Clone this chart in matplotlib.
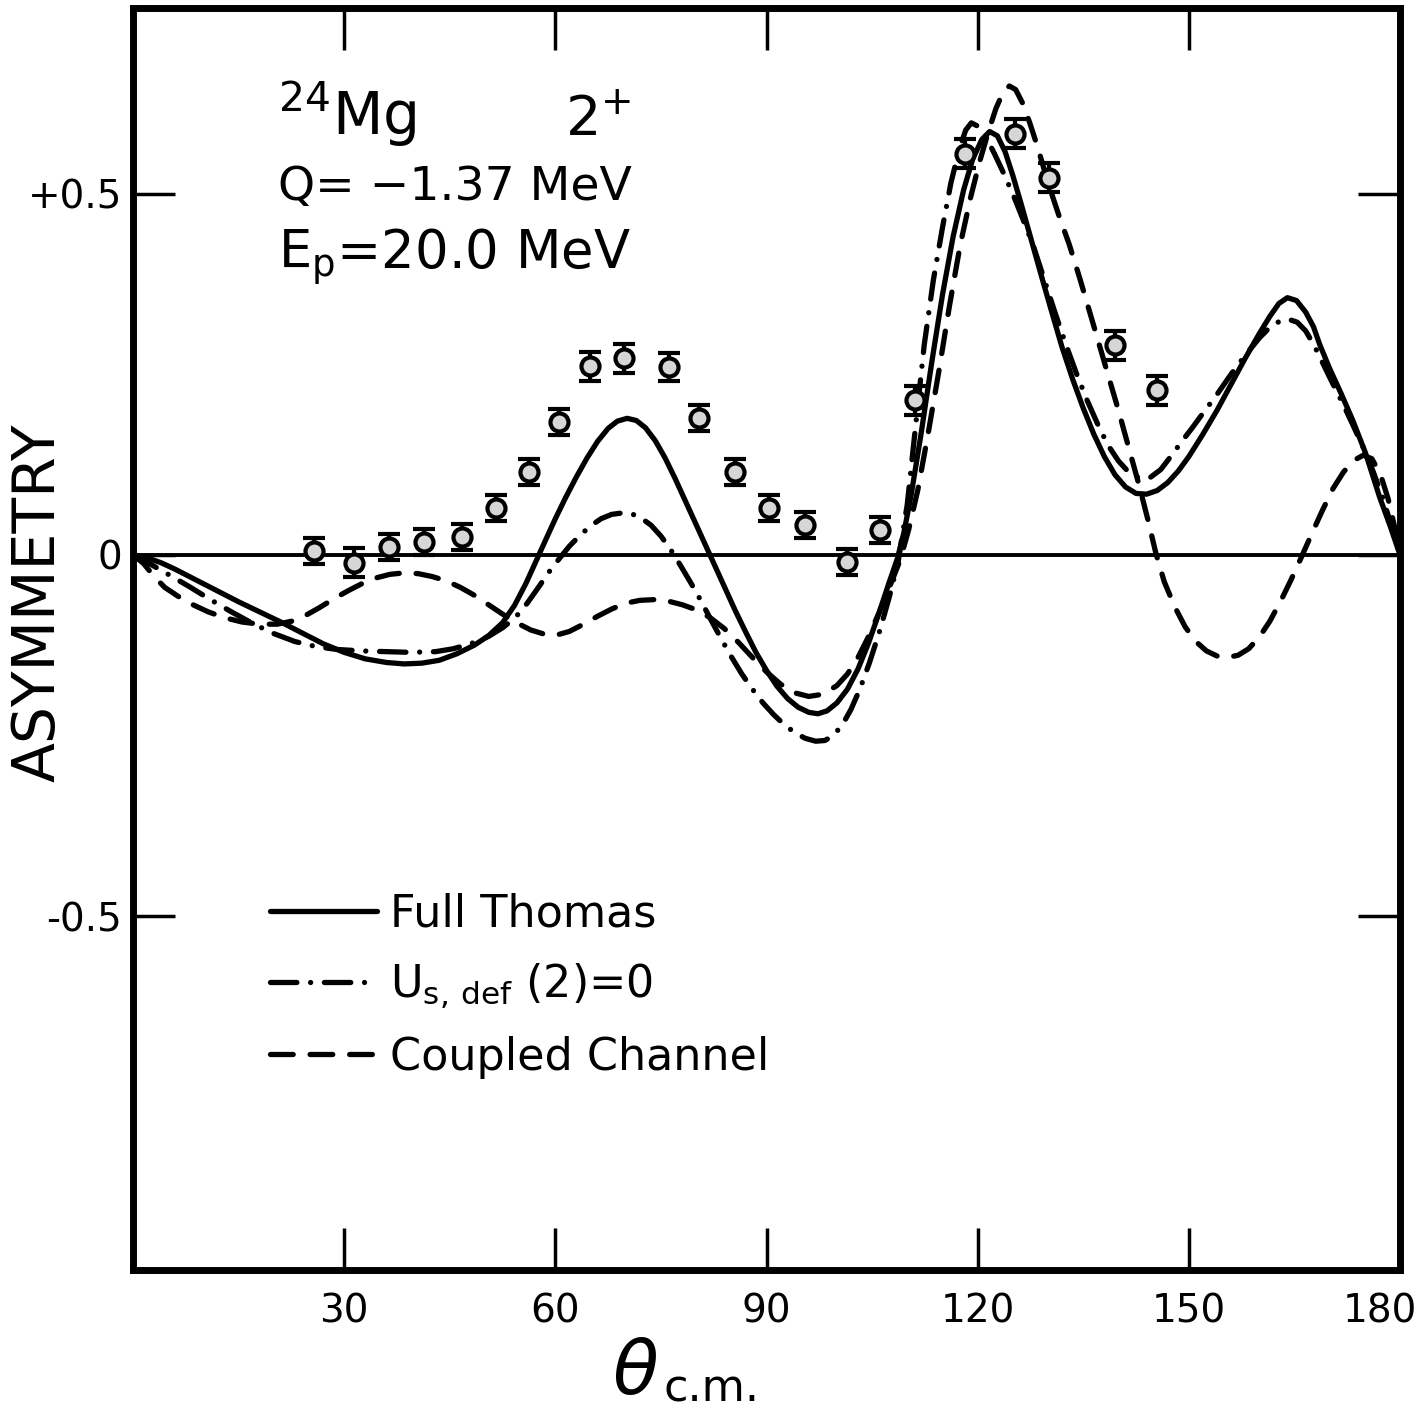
import numpy as np
import matplotlib
matplotlib.use("Agg")
import matplotlib.pyplot as plt
from matplotlib.transforms import ScaledTranslation

# measured asymmetry, 24Mg 2+ (theta c.m. in degrees)
theta_data = [25.7, 31.4, 36.3, 41.4, 46.8, 51.6, 56.2, 60.5, 64.9, 69.8, 76.1, 80.4,
              85.5, 90.3, 95.4, 101.4, 106.1, 111.1, 118.2, 125.3, 130.2, 139.5, 145.5]
asym_data = [0.006, -0.011, 0.011, 0.018, 0.025, 0.065, 0.115, 0.184, 0.261, 0.272, 0.260, 0.189,
             0.115, 0.065, 0.041, -0.010, 0.035, 0.214, 0.555, 0.583, 0.522, 0.290, 0.228]
asym_err = [0.018, 0.020, 0.018, 0.018, 0.018, 0.018, 0.018, 0.018, 0.020, 0.020, 0.020, 0.018,
            0.018, 0.018, 0.018, 0.018, 0.018, 0.020, 0.020, 0.020, 0.020, 0.020, 0.020]

# Full Thomas (solid)
theta_full = [0, 2, 4, 6, 9, 12, 15, 18, 21, 24, 27, 30, 33, 36, 38.5, 41, 43.5, 46, 48.5,
              50.5, 52.5, 54.2, 55.8, 57.2, 58.5, 60, 61.5, 63, 64.5, 66, 67.5, 68.8, 70.2,
              71.5, 72.8, 74.2, 75.6, 77, 78.5, 80, 81.4, 82.8, 84.2, 85.6, 87, 88.5, 90, 91.5,
              93, 94.5, 96, 97.3, 98.6, 100, 101.5, 103, 104.5, 106, 107.5, 108.6, 109.5, 110.5,
              112, 113.5, 115, 116.5, 118, 119.3, 120.6, 121.7, 122.8, 123.9, 125, 126.2, 127.5,
              129, 130.5, 132, 133.5, 135, 136.5, 138, 139.5, 141, 142.5, 144, 145.5, 147, 148.5,
              150, 152, 154, 156, 158, 160, 161.5, 162.8, 164, 165.3, 166.6, 167.7, 168.6, 170,
              171.6, 173.3, 175.1, 177.1, 178.6, 180]
asym_full = [0, -0.004, -0.011, -0.020, -0.035, -0.050, -0.065, -0.079, -0.093, -0.108, -0.123,
             -0.135, -0.144, -0.149, -0.151, -0.150, -0.146, -0.137, -0.125,
             -0.112, -0.094, -0.070, -0.040, -0.010, 0.018, 0.050, 0.080, 0.108, 0.134, 0.157,
             0.175, 0.185, 0.189,
             0.186, 0.176, 0.158, 0.134, 0.106, 0.074, 0.042, 0.012, -0.018, -0.048, -0.078,
             -0.106, -0.135, -0.160, -0.182,
             -0.199, -0.211, -0.218, -0.220, -0.216, -0.205, -0.186, -0.158, -0.122, -0.080,
             -0.036, -0.005, 0.030, 0.080,
             0.170, 0.268, 0.360, 0.440, 0.505, 0.548, 0.575, 0.586, 0.580, 0.558, 0.525, 0.485,
             0.440,
             0.388, 0.337, 0.287, 0.243, 0.203, 0.167, 0.136, 0.111, 0.094, 0.085, 0.084, 0.089,
             0.100, 0.116,
             0.136, 0.167, 0.200, 0.236, 0.272, 0.306, 0.330, 0.348, 0.356, 0.352, 0.336, 0.316,
             0.291, 0.258,
             0.224, 0.186, 0.141, 0.080, 0.040, 0.0]

# U_s,def(2)=0 (dash-dot)
theta_udef = [0, 2.5, 5, 8, 11, 14, 17, 20, 23, 26, 29, 32.5, 36, 39.5, 43, 45.5, 48, 50.5,
              52.5, 54.3, 56, 57.6, 59, 60.5, 62, 63.5, 65, 66.5, 68, 69.5, 70.8, 72.2, 73.6, 75,
              76.4, 77.8, 79.2, 80.6, 82, 83.5, 85, 86.5, 88, 89.5, 91, 92.5, 94, 95.5, 97, 98.3,
              99.5, 100.8, 102, 103.3, 104.6, 106, 107.4, 108.7, 110, 111.2, 112.4, 113.7, 115,
              116.2, 117.4, 118.3, 119.1, 120.1, 121.2, 122.4, 123.7, 125.1, 126.5, 128, 129.5,
              131, 132.5, 134, 135.5, 137, 138.5, 140, 141.5, 143, 144.5, 146, 147.5, 149, 150.5,
              152, 154, 156, 158, 160, 161.5, 163, 164.2, 165.4, 166.6, 167.8, 169, 170.3, 171.8,
              173.3, 174.8, 176.2, 177.5, 178.8, 180]
asym_udef = [0, -0.013, -0.027, -0.044, -0.062, -0.079, -0.095, -0.109, -0.120, -0.127, -0.131,
             -0.133, -0.134, -0.135, -0.134, -0.130, -0.123, -0.113,
             -0.101, -0.087, -0.067, -0.045, -0.025, -0.006, 0.012, 0.027, 0.040, 0.050, 0.056,
             0.058, 0.057, 0.051, 0.041, 0.026,
             0.007, -0.015, -0.038, -0.062, -0.088, -0.115, -0.141, -0.165, -0.186, -0.205,
             -0.221, -0.235, -0.246, -0.254, -0.258, -0.257,
             -0.250, -0.235, -0.214, -0.185, -0.150, -0.108, -0.060, -0.010, 0.070, 0.180, 0.290,
             0.380, 0.453,
             0.515, 0.562, 0.588, 0.598, 0.593, 0.578, 0.555, 0.528, 0.497, 0.463, 0.425, 0.380,
             0.335, 0.292, 0.252, 0.215, 0.182, 0.152, 0.130, 0.114, 0.106, 0.107, 0.118, 0.137,
             0.157, 0.176,
             0.196, 0.222, 0.250, 0.276, 0.300, 0.315, 0.324, 0.326, 0.322, 0.310, 0.290, 0.266,
             0.240, 0.211,
             0.180, 0.148, 0.115, 0.080, 0.040, 0.0]

# Coupled Channel (dashed)
theta_cc = [0, 1.5, 3, 4.5, 6.5, 8.5, 10.7, 13, 15.5, 18, 20.5, 22.5, 24.5, 26.5, 28.5, 30.5,
            32.5, 34.5, 36.5, 38.5, 40.5, 42.5, 44.5, 46.5, 48.5, 50.5, 52.5, 54.5, 56.5, 58.5,
            60.2, 62, 64, 66, 68, 70, 72, 74, 76, 78, 80, 82, 84, 86, 88, 90, 92, 94, 96, 98,
            100, 101.5, 103, 104.5, 106, 107.5, 109, 110.2, 111.5, 113, 114.5, 116, 117.5, 119,
            120.3, 121.5, 122.6, 123.6, 124.5, 125.4, 126.4, 127.4, 128.5, 130, 131.6, 133,
            134.5, 135.8, 137, 138.5, 140, 141.5, 143, 144.2, 145.3, 146.5, 148, 149.5, 151,
            152.5, 154, 155.5, 157, 158.5, 160, 161.5, 163, 164.5, 166, 167.5, 169, 170.5, 172,
            173.5, 174.8, 176, 177.2, 178.3, 179.2, 180]
asym_cc = [0, -0.012, -0.030, -0.045, -0.058, -0.069, -0.079, -0.087, -0.093, -0.096, -0.096,
           -0.092, -0.084, -0.073, -0.061, -0.050,
           -0.040, -0.032, -0.027, -0.025, -0.026, -0.030, -0.036, -0.045, -0.056, -0.069,
           -0.082, -0.094, -0.104, -0.110,
           -0.111, -0.106, -0.096, -0.085, -0.075, -0.067, -0.063, -0.062, -0.064, -0.069,
           -0.076, -0.087, -0.102, -0.121, -0.142, -0.162, -0.179, -0.191, -0.196, -0.193,
           -0.181, -0.165, -0.142, -0.113, -0.080, -0.044, -0.007, 0.035, 0.090, 0.170, 0.255,
           0.345, 0.428, 0.495,
           0.545, 0.585, 0.618, 0.640, 0.649, 0.644, 0.625, 0.598, 0.565, 0.515, 0.468, 0.430,
           0.383, 0.340, 0.300, 0.250, 0.200, 0.147, 0.094, 0.048, 0.003, -0.037, -0.072,
           -0.100, -0.120,
           -0.133, -0.140, -0.142, -0.139, -0.130, -0.114, -0.092, -0.065, -0.035, -0.003, 0.030,
           0.062, 0.092, 0.115,
           0.131, 0.138, 0.133, 0.112, 0.078, 0.040, 0.0]

xticks = [30, 60, 90, 120, 150, 180]
xticklabels = ["30", "60", "90", "120", "150", "180"]
yticks = [-0.5, 0, 0.5]
yticklabels = ["-0.5", "0", "+0.5"]

fig = plt.figure(figsize=(14.27, 14.13), dpi=100)
ax = fig.add_axes([133 / 1427, 143 / 1413, 1267 / 1427, 1262 / 1413])

ax.axhline(0, color="black", lw=2.8, zorder=1)

ax.plot(theta_full, asym_full, color="black", lw=3.8, solid_capstyle="round",
        solid_joinstyle="round", label="Full Thomas", zorder=3)
ax.plot(theta_udef, asym_udef, color="black", lw=3.8, linestyle=(0, (5.0, 2.6, 0.01, 2.6)),
        dash_capstyle="round", dash_joinstyle="round", label=r"U$_{\mathrm{s,\,def}}$ (2)=0",
        zorder=3)
ax.plot(theta_cc, asym_cc, color="black", lw=3.8, linestyle=(0, (4.3, 3.2)),
        dash_capstyle="round", dash_joinstyle="round", label="Coupled Channel", zorder=3)

ax.errorbar(theta_data, asym_data, yerr=asym_err, fmt="o", ms=13, mfc="#d6d6d6", mec="black",
            mew=3, ecolor="black", elinewidth=3, capsize=8, capthick=3, zorder=5)

ax.set_xlim(0, 180)
ax.set_ylim(-0.99, 0.757)
ax.set_xticks(xticks)
ax.set_xticklabels(xticklabels, fontsize=28)
ax.set_yticks(yticks)
ax.set_yticklabels(yticklabels, fontsize=28)
ax.tick_params(direction="in", length=30, width=2.5, top=True, right=True)
ax.tick_params(axis="x", pad=16)
ax.tick_params(axis="y", pad=8)
for s in ax.spines.values():
    s.set_linewidth(5)

# the last x label sits a little left of its tick, as in the original
last = ax.xaxis.get_major_ticks()[-1].label1
last.set_transform(last.get_transform() + ScaledTranslation(-20 / 100, 0, fig.dpi_scale_trans))

ax.text(0.1144, 0.899, r"$^{24}$Mg", transform=ax.transAxes, fontsize=42, va="baseline")
ax.text(0.341, 0.899, r"2$^{+}$", transform=ax.transAxes, fontsize=40, va="baseline")
ax.text(0.1144, 0.848, "Q= \u22121.37 MeV", transform=ax.transAxes, fontsize=34, va="baseline")
ax.text(0.1144, 0.793, r"E$_{\mathrm{p}}$=20.0 MeV", transform=ax.transAxes, fontsize=38,
        va="baseline")

ax.legend(loc="upper left", bbox_to_anchor=(0.108, 0.299), frameon=False, fontsize=32,
          handlelength=2.4, handletextpad=0.3, labelspacing=0.57, borderpad=0,
          borderaxespad=0)

fig.text(38 / 1427, 1 - 603 / 1413, "ASYMMETRY", rotation=90, fontsize=42, ha="center",
         va="center")
fig.text(612 / 1427, 1 - 1394 / 1413, r"$\theta$", fontsize=54, ha="left", va="baseline")
fig.text(664 / 1427, 1 - 1401 / 1413, "c.m.", fontsize=32, ha="left", va="baseline")

fig.savefig("out.png", dpi=100)
